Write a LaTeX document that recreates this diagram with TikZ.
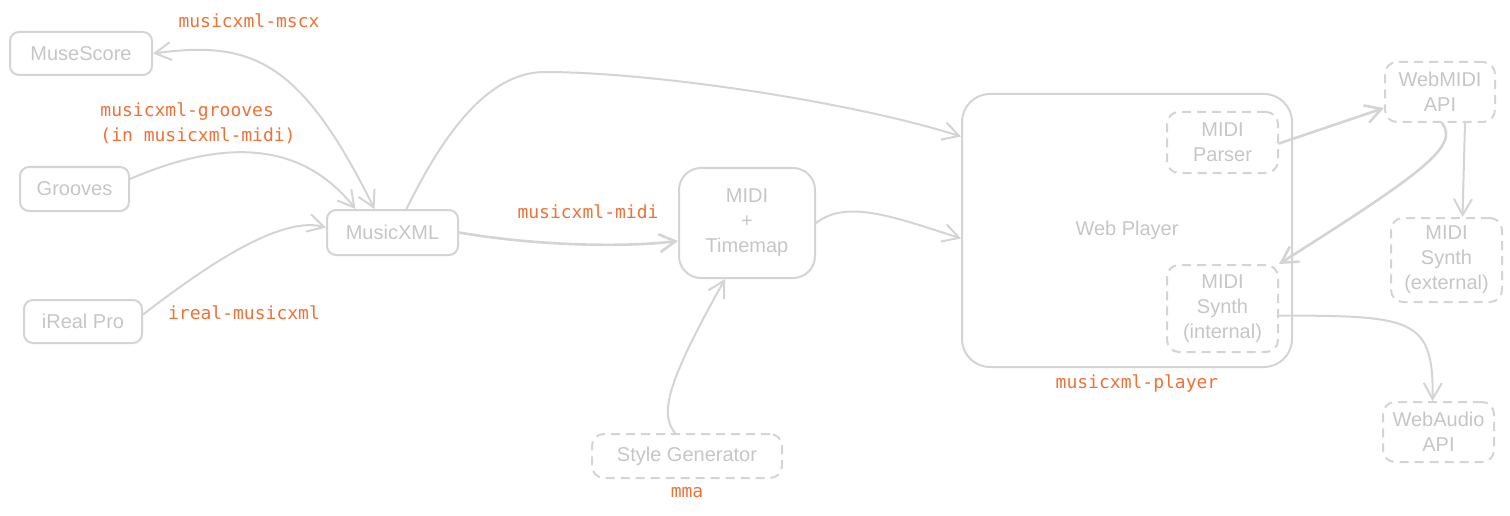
\documentclass[tikz,border=0pt]{standalone}
\usepackage{fontspec}
\setmainfont{Liberation Sans}
\newfontfamily\codefont{DejaVu Sans Mono}
\usepackage{tikz}
\usetikzlibrary{arrows.meta}
\definecolor{linegray}{HTML}{D4D4D4}
\definecolor{textgray}{HTML}{C6C6C6}
\definecolor{codeorange}{HTML}{EE7136}
\tikzset{
  box/.style={draw=linegray, line width=2pt, rounded corners=9pt, text=textgray, align=center,
    inner sep=0pt, font=\fontsize{20}{25}\selectfont},
  dbox/.style={box, rounded corners=12pt, dash pattern=on 9pt off 6pt},
  lbl/.style={text=codeorange, align=left, inner sep=0pt, font=\codefont\fontsize{18}{25}\selectfont},
  barb/.tip={Straight Barb[length=16pt,width=18pt]},
  flow/.style={draw=linegray, line width=2pt, line cap=round, line join=round, -barb},
}
\begin{document}
\begin{tikzpicture}[x=1pt,y=1pt]
\useasboundingbox (0,0) rectangle (1510,-516);
% Sources on the left
\node[box, minimum width=142pt, minimum height=43pt] (musescore) at (81,-53.5) {MuseScore};
\node[box, minimum width=109pt, minimum height=44pt] (grooves) at (74.5,-189) {Grooves};
\node[box, minimum width=118pt, minimum height=43pt] (ireal) at (83,-321.5) {iReal Pro};
\node[box, minimum width=131pt, minimum height=45pt] (musicxml) at (392.5,-232.5) {MusicXML};
% Middle stage
\node[box, rounded corners=22pt, minimum width=136pt, minimum height=110pt] (midimap) at (747,-223) {MIDI\\+\\Timemap};
\node[dbox, minimum width=190pt, minimum height=44pt] (stylegen) at (687,-456) {Style Generator};
% Player and its parts
\node[box, rounded corners=28pt, minimum width=330pt, minimum height=273pt] (webplayer) at (1127,-230.5) {Web Player};
\node[dbox, minimum width=111pt, minimum height=61pt] (parser) at (1222.5,-142.5) {MIDI\\Parser};
\node[dbox, minimum width=111pt, minimum height=87pt] (intsynth) at (1222.5,-308.5) {MIDI\\Synth\\(internal)};
% Browser side
\node[dbox, minimum width=110pt, minimum height=60pt] (webmidi) at (1440,-92) {WebMIDI\\API};
\node[dbox, minimum width=111pt, minimum height=84pt] (extsynth) at (1446.5,-260) {MIDI\\Synth\\(external)};
\node[dbox, minimum width=111pt, minimum height=60pt] (webaudio) at (1438.5,-432) {WebAudio\\API};
% Package labels
\node[lbl] (mscxlbl) at (249,-21) {musicxml-mscx};
\node[lbl] (grooveslbl) at (198,-123.5) {musicxml-grooves\\(in musicxml-midi)};
\node[lbl] (ireallbl) at (244,-313) {ireal-musicxml};
\node[lbl] (midilbl) at (588,-212) {musicxml-midi};
\node[lbl] (mmalbl) at (687,-493) {mma};
\node[lbl] (playerlbl) at (1137,-383) {musicxml-player};
% Connectors
\draw[flow, barb-barb] (musescore.east) .. controls +(98,13) and +(-74.5,150) .. ([xshift=-18pt]musicxml.north); % two-way
\draw[flow] ([yshift=10pt]grooves.east) .. controls +(90.5,39) and +(-55.5,70) .. ([xshift=-37pt]musicxml.north);
\draw[flow] ([yshift=7pt]ireal.east) .. controls +(58,44.5) and +(-47,12.5) .. ([yshift=5pt]musicxml.west);
\coordinate (crest) at (545,-72);
\draw[flow] ([xshift=14pt]musicxml.north) .. controls +(44,90) and +(-50,0) .. (crest)
  .. controls +(105,0) and +(-112,35.5) .. ([yshift=94pt]webplayer.west);
\draw[flow, line width=2.6pt] (musicxml.east) .. controls +(72,-12.5) and +(-59,-7) .. ([yshift=-18pt]midimap.west);
\draw[flow] (midimap.east) .. controls +(30,23) and +(-72,23.5) .. ([yshift=-8pt]webplayer.west);
\draw[flow] ([xshift=-12pt]stylegen.north) .. controls +(-15,19) and +(-60,-107) .. ([xshift=-22pt]midimap.south);
\draw[flow, line width=2.6pt] ([yshift=-1pt]parser.east) -- ([yshift=-16pt]webmidi.west);
\draw[flow, line width=2.6pt] ([xshift=2pt]webmidi.south) .. controls +(18,-23) and +(142,90) .. (intsynth.north east);
\draw[flow] ([xshift=25pt]webmidi.south) -- ([xshift=16pt]extsynth.north);
\draw[flow] ([yshift=-7pt]intsynth.east) .. controls +(132,-0.5) and +(1.5,84) .. ([xshift=-6pt]webaudio.north);
\end{tikzpicture}
\end{document}
